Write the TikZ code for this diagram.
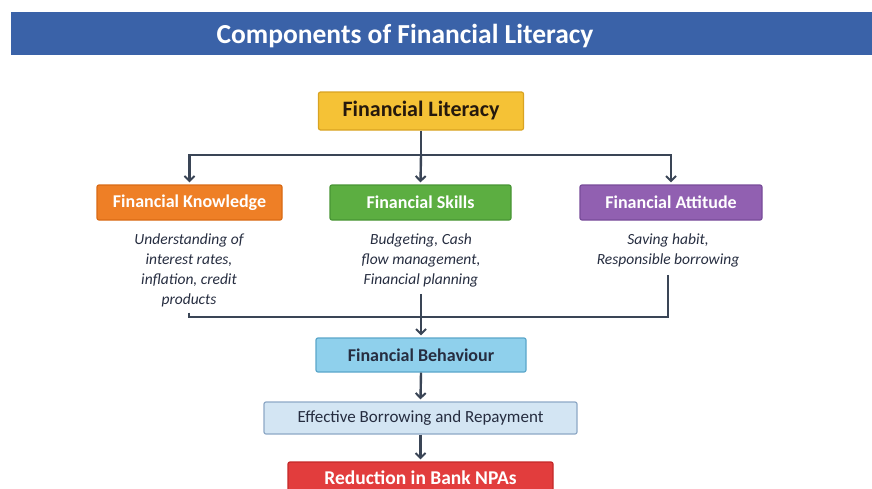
\documentclass[tikz,border=0pt]{standalone}
\usepackage{fontspec}
\setmainfont{Carlito}
\usepackage{tikz}
\usetikzlibrary{arrows.meta, positioning}
\usepackage{xcolor}

\definecolor{banner}{HTML}{3A62A8}
\definecolor{litfill}{HTML}{F5C236}
\definecolor{litdraw}{HTML}{D9A322}
\definecolor{knowfill}{HTML}{EE7F26}
\definecolor{knowdraw}{HTML}{D96A15}
\definecolor{skillfill}{HTML}{5CAE41}
\definecolor{skilldraw}{HTML}{489534}
\definecolor{attfill}{HTML}{9160B1}
\definecolor{attdraw}{HTML}{784C99}
\definecolor{behfill}{HTML}{8FD0EC}
\definecolor{behdraw}{HTML}{5AA6CA}
\definecolor{efffill}{HTML}{D3E5F3}
\definecolor{effdraw}{HTML}{8DA8C6}
\definecolor{redfill}{HTML}{E23D3D}
\definecolor{reddraw}{HTML}{C42828}
\definecolor{linecol}{HTML}{3A4556}
\definecolor{inktext}{HTML}{262D40}

\tikzset{
    box/.style = {rectangle, rounded corners = 2, line width = 1.2, inner sep = 0,
                  font = \bfseries\fontsize{18}{21}\selectfont, text = white},
    desc/.style = {align = center, inner sep = 0, text = inktext, anchor = north,
                   font = \itshape\fontsize{15.5}{20}\selectfont},
    line/.style = {line width = 2.4, color = linecol},
    arr/.style = {line, -{Straight Barb[length=5pt, width=10pt, line width=2pt]}}
}

\begin{document}
\begin{tikzpicture}[x=1pt, y=-1pt]
    \useasboundingbox (0,0) rectangle (872,488);
    % Title
    \fill[banner] (11,12) rectangle (872,55);
    \node[font=\bfseries\fontsize{27.5}{32}\selectfont, text=white] (title) at (405,36) {Components of Financial Literacy};
    % Top level
    \node[box, fill=litfill, draw=litdraw, minimum width=205, minimum height=38,
          text=black!80!brown, font=\bfseries\fontsize{22}{26}\selectfont] (lit) at (421,111) {Financial Literacy};
    % Components
    \node[box, fill=knowfill, draw=knowdraw, minimum width=185, minimum height=35] (know) at (189.5,202.5) {Financial Knowledge};
    \node[box, fill=skillfill, draw=skilldraw, minimum width=181, minimum height=35] (skill) at (420.5,202.5) {Financial Skills};
    \node[box, fill=attfill, draw=attdraw, minimum width=182, minimum height=35] (att) at (671,202.5) {Financial Attitude};
    % Descriptions
    \node[desc] (kdesc) at (189,234) {Understanding of\\interest rates,\\inflation, credit\\products};
    \node[desc] (sdesc) at (421,234) {Budgeting, Cash\\flow management,\\Financial planning};
    \node[desc] (adesc) at (668,234) {Saving habit,\\Responsible borrowing};
    % Outcomes
    \node[box, fill=behfill, draw=behdraw, minimum width=210, minimum height=34, text=inktext] (beh) at (421,355) {Financial Behaviour};
    \node[box, fill=efffill, draw=effdraw, minimum width=313, minimum height=32, text=inktext,
          font=\fontsize{17}{20}\selectfont] (eff) at (420.5,418) {Effective Borrowing and Repayment};
    \node[box, fill=redfill, draw=reddraw, minimum width=265, minimum height=32,
          font=\bfseries\fontsize{19.5}{23}\selectfont] (npa) at (420.5,478) {Reduction in Bank NPAs};
    % Connectors
    \coordinate (split) at (421,155);
    \coordinate (join) at (421,317);
    \draw[line] (lit.south) -- (split);
    \draw[arr] (split) -| ([yshift=2]know.north);
    \draw[arr] (split) -| ([yshift=2]att.north);
    \draw[arr] (split) -- ([yshift=2]skill.north);
    \draw[line] ([yshift=-5]kdesc.south) |- (join);
    \draw[line] ([yshift=-7]adesc.south) |- (join);
    \draw[arr] ([yshift=-6]sdesc.south) -- ([yshift=2]beh.north);
    \draw[arr] (beh.south) -- ([yshift=2]eff.north);
    \draw[arr] (eff.south) -- ([yshift=2]npa.north);
\end{tikzpicture}
\end{document}
